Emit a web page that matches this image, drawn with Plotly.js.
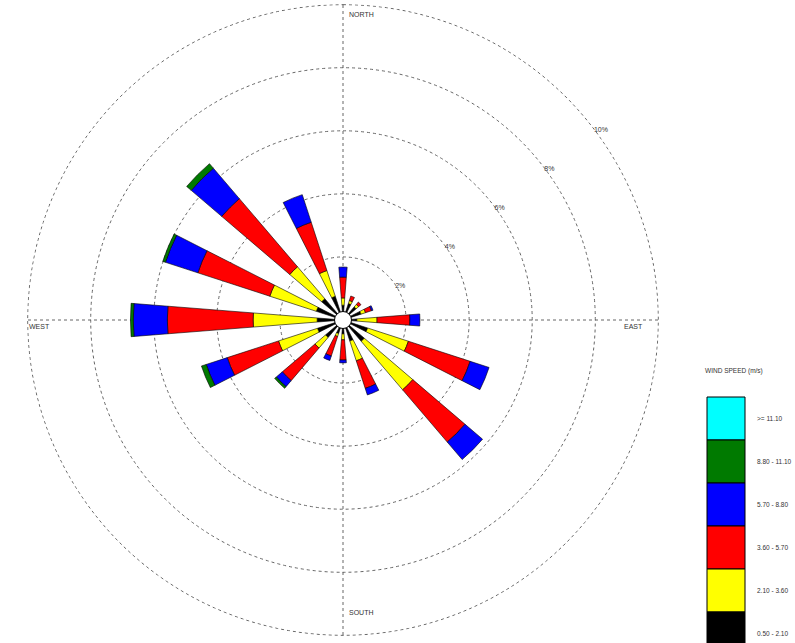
<!DOCTYPE html>
<html>
<head>
<meta charset="utf-8">
<script src="https://cdn.plot.ly/plotly-3.0.1.min.js"></script>
<style>html,body{margin:0;padding:0;background:#fff;}#chart{width:795px;height:643px;}</style>
</head>
<body>
<div id="chart"></div>
<script>
// Wind directions (compass bearing, degrees)
const directions = ["N","NNE","NE","ENE","E","ESE","SE","SSE","S","SSW","SW","WSW","W","WNW","NW","NNW"];
const angles = [0,22.5,45,67.5,90,112.5,135,157.5,180,202.5,225,247.5,270,292.5,315,337.5];

// Frequency (%) per wind speed class, per direction
const calmTo2 = [0.47,0.55,0.55,0.60,0.44,0.82,0.89,0.70,0.44,0.45,0.73,0.85,0.82,0.89,0.89,0.79];
const s2to3   = [0.23,0.10,0.10,0.15,0.64,1.36,2.02,0.66,0.19,0.10,0.44,1.30,2.03,1.55,1.33,0.86];
const s3to5   = [0.66,0.15,0.10,0.20,1.04,2.06,2.18,0.92,0.64,0.65,1.36,1.71,2.72,2.40,2.84,1.61];
const s5to8   = [0.32,0.00,0.00,0.05,0.32,0.63,0.73,0.22,0.09,0.15,0.25,0.70,1.08,1.08,1.27,0.92];
const s8to11  = [0.00,0.00,0.00,0.00,0.00,0.00,0.00,0.00,0.00,0.00,0.07,0.16,0.09,0.09,0.19,0.00];
const s11up   = [0,0,0,0,0,0,0,0,0,0,0,0,0,0,0,0];

const classLabels = ["0.50 - 2.10","2.10 - 3.60","3.60 - 5.70","5.70 - 8.80","8.80 - 11.10",">= 11.10"];
const classColors = ["#000000","#ffff00","#ff0000","#0000ff","#007a00","#00ffff"];
const seriesValues = [calmTo2, s2to3, s3to5, s5to8, s8to11, s11up];

const ringValues = [2,4,6,8,10];
const ringLabels = ["2%","4%","6%","8%","10%"];
const cardinalText = ["NORTH","EAST","SOUTH","WEST"];
const legendTitle = "WIND SPEED (m/s)";

const traces = seriesValues.map((vals, i) => ({
  type: "barpolar",
  r: vals,
  theta: angles,
  width: 9,
  name: classLabels[i],
  marker: {color: classColors[i], line: {color: "#000", width: 0.6}},
  showlegend: false,
  hoverinfo: "none"
}));

// outer dotted ring (grid circle at the maximum ring value)
const outerTheta = [];
for (let a = 0; a <= 360; a += 2) outerTheta.push(a);
traces.unshift({
  type: "scatterpolar", mode: "lines",
  r: outerTheta.map(() => ringValues[ringValues.length - 1]),
  theta: outerTheta,
  line: {color: "#666", width: 1, dash: "dot"},
  showlegend: false, hoverinfo: "none"
});

// calm circle at centre
traces.push({
  type: "scatterpolar", mode: "markers", r: [0], theta: [0],
  marker: {size: 17, color: "#fff", line: {color: "#000", width: 1}},
  showlegend: false, hoverinfo: "none"
});

const font = {family: "Liberation Sans, Arial, sans-serif", size: 7, color: "#333"};
const smallFont = {family: "Liberation Sans, Arial, sans-serif", size: 6.5, color: "#333"};

// legend made of swatches
const shapes = [];
const annotations = [];
const swTop = 1 - 397/643, swH = 43/643, swX0 = 707/795, swX1 = 745/795;
for (let k = 0; k < classColors.length; k++) {
  const idx = classColors.length - 1 - k; // highest class on top
  const y1 = swTop - k*swH, y0 = y1 - swH;
  shapes.push({type: "rect", xref: "paper", yref: "paper", x0: swX0, x1: swX1, y0: y0, y1: y1,
    fillcolor: classColors[idx], line: {color: "#000", width: 1}});
  annotations.push({xref: "paper", yref: "paper", x: 755/795, y: (y0+y1)/2, xanchor: "left", yanchor: "middle",
    text: classLabels[idx], showarrow: false, font: smallFont});
}
annotations.push({xref: "paper", yref: "paper", x: 703/795, y: 1 - 371/643, xanchor: "left", yanchor: "middle",
  text: legendTitle, showarrow: false, font: smallFont});

// cardinal labels
const cardPos = [[347/795, 1-15/643], [622/795, 1-326/643], [347/795, 1-612/643], [27/795, 1-326/643]];
cardinalText.forEach((t, i) => annotations.push({xref: "paper", yref: "paper", x: cardPos[i][0], y: cardPos[i][1],
  xanchor: "left", yanchor: "middle", text: t, showarrow: false, font: font}));

const layout = {
  width: 795, height: 643,
  margin: {l: 0, r: 0, t: 0, b: 0},
  paper_bgcolor: "#fff",
  showlegend: false,
  polar: {
    domain: {x: [27/795, 659/795], y: [7/643, 639/643]},
    bgcolor: "#fff",
    barmode: "stack",
    radialaxis: {
      range: [0, 10.02], tickvals: ringValues, ticktext: ringLabels,
      angle: 38, tickangle: 38, showline: false, ticks: "",
      gridcolor: "#666", griddash: "dot", gridwidth: 1,
      tickfont: font
    },
    angularaxis: {
      direction: "clockwise", rotation: 90,
      tickvals: [0, 90, 180, 270], showticklabels: false, ticks: "",
      gridcolor: "#666", griddash: "dot", gridwidth: 1,
      showline: false
    }
  },
  shapes: shapes,
  annotations: annotations
};

Plotly.newPlot("chart", traces, layout, {staticPlot: true, displayModeBar: false});
</script>
</body>
</html>
